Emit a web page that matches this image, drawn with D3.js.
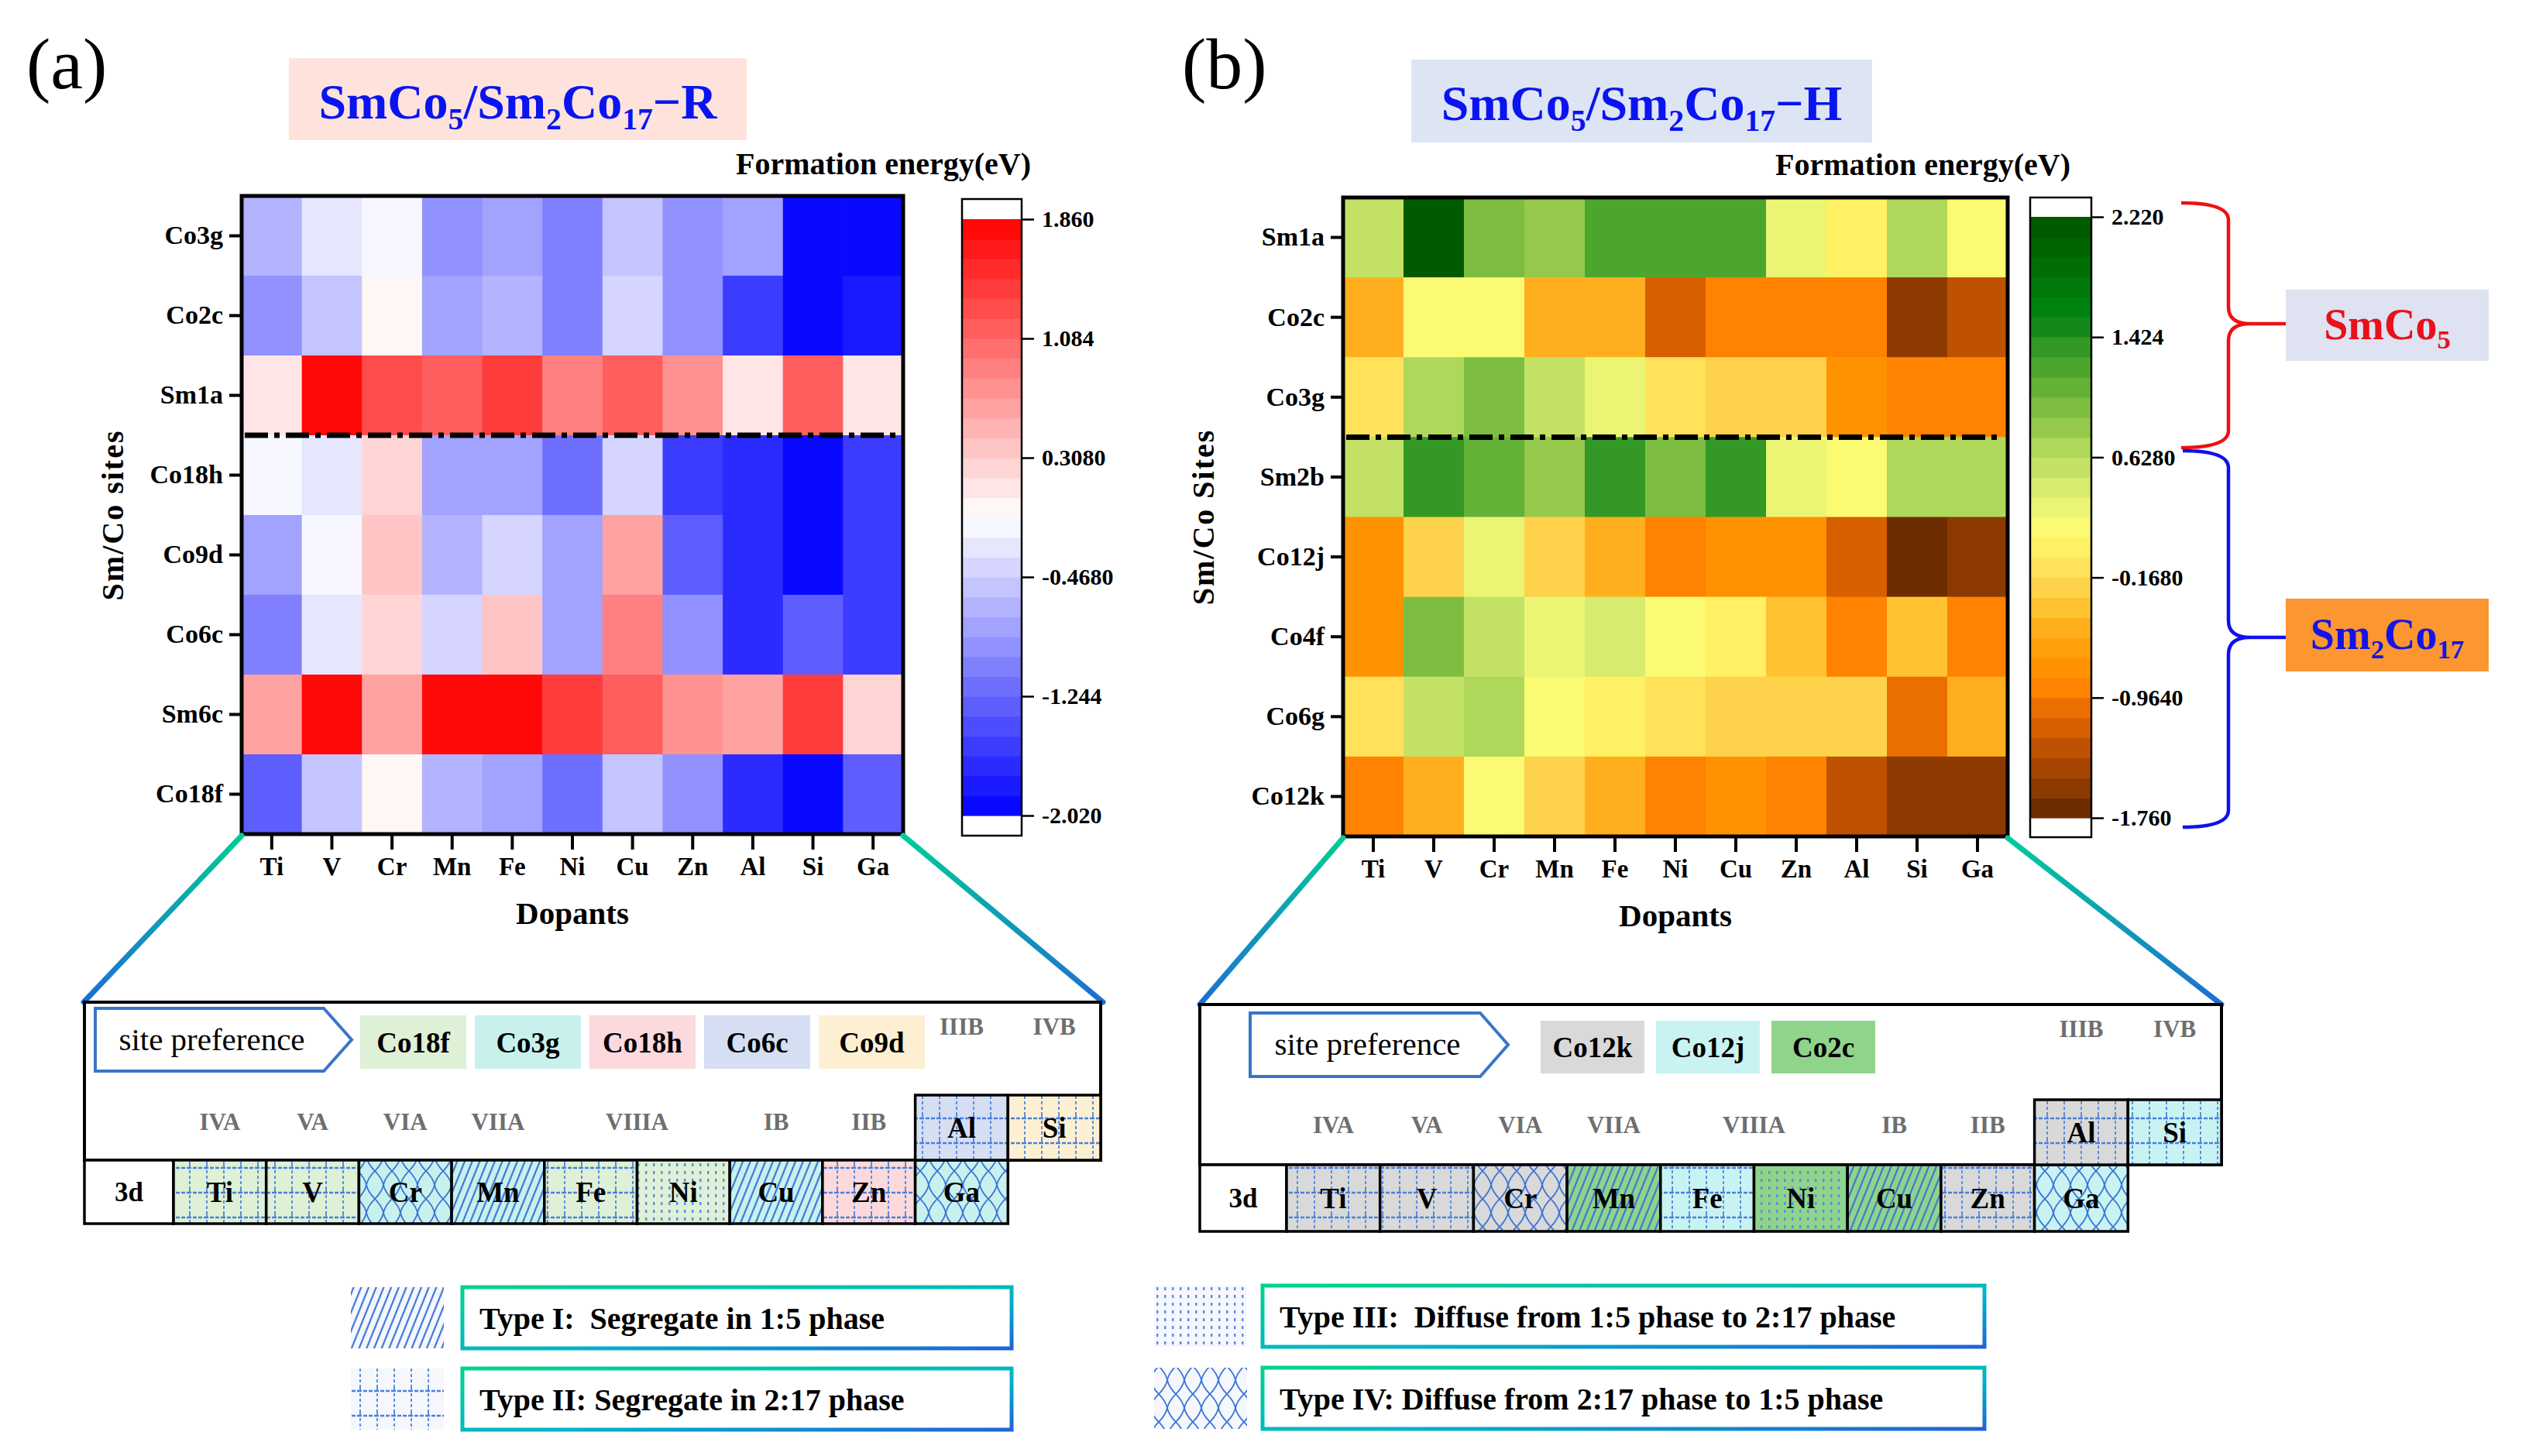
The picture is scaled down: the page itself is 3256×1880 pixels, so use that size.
<!DOCTYPE html>
<html><head><meta charset="utf-8">
<script src="https://cdn.jsdelivr.net/npm/d3@7/dist/d3.min.js"></script>
<style>
body{margin:0;background:#fff}
svg{display:block}
text{font-family:"Liberation Serif","Times New Roman",serif}
</style>
</head><body>
<svg id="c" width="3256" height="1880"></svg>
<script>
// ---------------- DATA ----------------
const dopants = ["Ti","V","Cr","Mn","Fe","Ni","Cu","Zn","Al","Si","Ga"];

const sitesR = ["Co3g","Co2c","Sm1a","Co18h","Co9d","Co6c","Sm6c","Co18f"];
const energyR = [
  [-0.66,-0.27,-0.17,-0.95,-0.80,-1.11,-0.57,-0.95,-0.80,-2.02,-1.95],
  [-0.95,-0.54, 0.00,-0.80,-0.65,-1.10,-0.42,-0.95,-1.53,-2.00,-1.83],
  [ 0.15, 1.78, 1.33, 1.18, 1.47, 0.91, 1.18, 0.79, 0.15, 1.10, 0.15],
  [-0.17,-0.30, 0.23,-0.80,-0.80,-1.18,-0.42,-1.53,-1.68,-1.95,-1.53],
  [-0.80,-0.20, 0.41,-0.65,-0.38,-0.84, 0.64,-1.34,-1.68,-2.02,-1.53],
  [-1.10,-0.30, 0.23,-0.38, 0.41,-0.84, 0.95,-0.92,-1.68,-1.26,-1.53],
  [ 0.60, 1.86, 0.64, 1.86, 1.86, 1.47, 1.18, 0.79, 0.64, 1.47, 0.23],
  [-1.37,-0.54, 0.00,-0.65,-0.80,-1.22,-0.50,-0.95,-1.68,-1.95,-1.37]
];
const ticksR = [1.860, 1.084, 0.3080, -0.4680, -1.244, -2.020];
const tickLabelsR = ["1.860","1.084","0.3080","-0.4680","-1.244","-2.020"];

const sitesH = ["Sm1a","Co2c","Co3g","Sm2b","Co12j","Co4f","Co6g","Co12k"];
const energyH = [
  [ 0.50, 2.20, 1.00, 0.85, 1.25, 1.25, 1.25, 0.35, 0.00, 0.70, 0.15],
  [-0.50, 0.20, 0.20,-0.50,-0.50,-1.15,-0.85,-0.85,-0.90,-1.60,-1.35],
  [-0.10, 0.70, 0.95, 0.50, 0.35,-0.12,-0.20,-0.20,-0.70,-0.90,-0.85],
  [ 0.50, 1.42, 1.05, 0.88, 1.30, 1.00, 1.30, 0.35, 0.20, 0.68, 0.68],
  [-0.70,-0.20, 0.30,-0.20,-0.55,-0.85,-0.75,-0.75,-1.15,-1.72,-1.60],
  [-0.70, 0.95, 0.55, 0.35, 0.45, 0.15, 0.00,-0.35,-0.85,-0.35,-0.88],
  [-0.10, 0.58, 0.75, 0.15, 0.02,-0.08,-0.18,-0.18,-0.30,-1.00,-0.55],
  [-0.85,-0.50, 0.20,-0.20,-0.55,-0.85,-0.75,-0.90,-1.35,-1.60,-1.60]
];
const ticksH = [2.220, 1.424, 0.6280, -0.1680, -0.9640, -1.760];
const tickLabelsH = ["2.220","1.424","0.6280","-0.1680","-0.9640","-1.760"];

// periodic-table insets
const row3d = ["Ti","V","Cr","Mn","Fe","Ni","Cu","Zn","Ga"];
const rowUpper = ["Al","Si"];
const groupLabels = ["IVA","VA","VIA","VIIA","VIIIA","IB","IIB"];
const groupUpper = ["IIIB","IVB"];
const sitePrefR = ["Co18f","Co3g","Co18h","Co6c","Co9d"];
const sitePrefH = ["Co12k","Co12j","Co2c"];
const elemSiteR = {Ti:"Co18f",V:"Co18f",Cr:"Co3g",Mn:"Co3g",Fe:"Co18f",Ni:"Co18f",Cu:"Co3g",Zn:"Co18h",Ga:"Co3g",Al:"Co6c",Si:"Co9d"};
const elemSiteH = {Ti:"Co12k",V:"Co12k",Cr:"Co12k",Mn:"Co2c",Fe:"Co12j",Ni:"Co2c",Cu:"Co2c",Zn:"Co12k",Ga:"Co12j",Al:"Co12k",Si:"Co12j"};
const elemTypeR = {Ti:"II",V:"II",Cr:"IV",Mn:"I",Fe:"II",Ni:"III",Cu:"I",Zn:"II",Ga:"IV",Al:"II",Si:"II"};
const elemTypeH = {Ti:"II",V:"II",Cr:"IV",Mn:"I",Fe:"II",Ni:"III",Cu:"I",Zn:"II",Ga:"IV",Al:"II",Si:"II"};
const typeKeys = ["I","II","III","IV"];
const typeTexts = ["Type I:  Segregate in 1:5 phase","Type II: Segregate in 2:17 phase",
                   "Type III:  Diffuse from 1:5 phase to 2:17 phase","Type IV: Diffuse from 2:17 phase to 1:5 phase"];

// ---------------- STYLE ----------------
const siteColor = {Co18f:"#def0d6",Co3g:"#c8f1ee",Co18h:"#fcd9dc",Co6c:"#d5def2",Co9d:"#fdf0d2",
                   Co12k:"#d9d9d9",Co12j:"#c9f3f3",Co2c:"#8fd48a"};
const paletteH = ["#6e2d00","#8c3a00","#a54500","#be5200","#d75f00","#eb6e00",
  "#ff8200","#ff9200","#ffa00a","#ffaf1e","#ffc332","#ffd24b",
  "#ffe15a","#fff064","#fafa73","#ebf573","#d7eb6e","#c3e164",
  "#afd75a","#96c84b","#7dbe41","#64b137","#4ca62e","#339825",
  "#14891a","#00820f","#00780a","#006e05","#006400","#005a00"];

const svg = d3.select("#c");
svg.append("rect").attr("width",3256).attr("height",1880).attr("fill","#fff");
const defs = svg.append("defs");

// patterns
(function(){
  const blue = "#3d75d6";
  let p = defs.append("pattern").attr("id","patI").attr("patternUnits","userSpaceOnUse")
    .attr("width",9).attr("height",12).attr("patternTransform","rotate(22)");
  p.append("line").attr("x1",2).attr("y1",0).attr("x2",2).attr("y2",12).attr("stroke",blue).attr("stroke-width",2.2);
  p = defs.append("pattern").attr("id","patII").attr("patternUnits","userSpaceOnUse").attr("width",22).attr("height",32);
  p.append("line").attr("x1",3).attr("y1",0).attr("x2",3).attr("y2",32).attr("stroke","#5b8ee0").attr("stroke-width",2).attr("stroke-dasharray","4 3");
  p.append("line").attr("x1",0).attr("y1",4).attr("x2",22).attr("y2",4).attr("stroke","#4a80da").attr("stroke-width",2.6).attr("stroke-dasharray","5 2");
  p = defs.append("pattern").attr("id","patIII").attr("patternUnits","userSpaceOnUse").attr("width",10).attr("height",10);
  p.append("rect").attr("x",3).attr("y",2).attr("width",2.4).attr("height",4).attr("fill","#5a8ee0");
  p = defs.append("pattern").attr("id","patIV").attr("patternUnits","userSpaceOnUse").attr("width",22).attr("height",36);
  p.append("path").attr("d","M0,0 Q9,9 11,18 Q13,27 22,36 M22,0 Q13,9 11,18 Q9,27 0,36")
    .attr("fill","none").attr("stroke",blue).attr("stroke-width",1.8);
  const g = defs.append("linearGradient").attr("id","boxGrad").attr("x1","0").attr("y1","0").attr("x2","1").attr("y2","1");
  g.append("stop").attr("offset","0%").attr("stop-color","#00d48c");
  g.append("stop").attr("offset","60%").attr("stop-color","#00b4c8");
  g.append("stop").attr("offset","100%").attr("stop-color","#1e64d8");
})();

function connector(id,x1,y1,x2,y2){
  const g = defs.append("linearGradient").attr("id",id).attr("gradientUnits","userSpaceOnUse")
    .attr("x1",x1).attr("y1",y1).attr("x2",x2).attr("y2",y2);
  g.append("stop").attr("offset","0%").attr("stop-color","#00cc96");
  g.append("stop").attr("offset","100%").attr("stop-color","#1d6ed4");
  svg.append("line").attr("x1",x1).attr("y1",y1).attr("x2",x2).attr("y2",y2)
    .attr("stroke",`url(#${id})`).attr("stroke-width",7).attr("stroke-linecap","round");
}

function formula(g, x, y, parts, size, color, anchor){
  const t = g.append("text").attr("x",x).attr("y",y).attr("text-anchor",anchor||"middle")
    .attr("font-size",size).attr("font-weight","bold").attr("fill",color);
  let shifted = false;
  parts.forEach(p=>{
    const sub = typeof p !== "string";
    const s = t.append("tspan").text(sub ? p.sub : p);
    if (sub) { s.attr("font-size",size*0.62).attr("dy", shifted?0:size*0.22); shifted = true; }
    else if (shifted) { s.attr("dy",-size*0.22); shifted = false; }
  });
  return t;
}

// ---------------- HEATMAP PANELS ----------------
function heatPanel(o){
  const g = svg.append("g");
  const x = d3.scaleBand().domain(dopants).range([o.x0,o.x1]);
  const y = d3.scaleBand().domain(o.sites).range([o.y0,o.y1]);
  const n = o.palette.length, step = (o.max-o.min)/n;
  const q = d3.scaleQuantize().domain([o.min,o.max]).range(o.palette);
  o.sites.forEach((s,i)=>{
    g.append("g").selectAll("rect").data(o.values[i]).join("rect")
      .attr("x",(d,j)=>x(dopants[j])).attr("y",y(s))
      .attr("width",x.bandwidth()+0.6).attr("height",y.bandwidth()+0.6)
      .attr("fill",d=>q(d));
  });
  const yd = y(o.sites[3]);
  g.append("line").attr("x1",o.x0+4).attr("x2",o.x1-10).attr("y1",yd).attr("y2",yd)
    .attr("stroke","#000").attr("stroke-width",7).attr("stroke-dasharray","30 8 7 8");
  g.append("rect").attr("x",o.x0).attr("y",o.y0).attr("width",o.x1-o.x0).attr("height",o.y1-o.y0)
    .attr("fill","none").attr("stroke","#000").attr("stroke-width",5);
  const ay = g.append("g").attr("transform",`translate(${o.x0-2},0)`).call(d3.axisLeft(y).tickSize(14).tickPadding(8));
  const ax = g.append("g").attr("transform",`translate(0,${o.y1+2})`).call(d3.axisBottom(x).tickSize(18).tickPadding(10));
  [ay,ax].forEach(a=>{
    a.select(".domain").remove();
    a.selectAll("line").attr("stroke","#000").attr("stroke-width",4);
    a.selectAll("text").attr("font-size",34).attr("font-weight","bold").attr("fill","#000");
  });
  ax.selectAll("text").attr("font-size",33);
  // axis titles
  g.append("text").attr("transform",`translate(${o.ylabX},${(o.y0+o.y1)/2}) rotate(-90)`)
    .attr("text-anchor","middle").attr("dominant-baseline","middle").attr("font-size",40).attr("font-weight","bold")
    .attr("letter-spacing",2).text(o.ylab);
  g.append("text").attr("x",(o.x0+o.x1)/2).attr("y",o.y1+116).attr("text-anchor","middle")
    .attr("font-size",41).attr("font-weight","bold").text("Dopants");
  // colorbar
  const cy = d3.scaleLinear().domain([o.min,o.max]).range([o.cbBot,o.cbTop]);
  g.append("rect").attr("x",o.cbX).attr("y",o.cbTop-o.cbPad).attr("width",o.cbW).attr("height",o.cbBot-o.cbTop+2*o.cbPad)
    .attr("fill","#fff");
  g.append("g").selectAll("rect").data(o.palette).join("rect")
    .attr("x",o.cbX).attr("width",o.cbW)
    .attr("y",(c,i)=>cy(o.min+step*(i+1))).attr("height",(c,i)=>cy(o.min+step*i)-cy(o.min+step*(i+1))+0.6)
    .attr("fill",c=>c);
  g.append("rect").attr("x",o.cbX).attr("y",o.cbTop-o.cbPad).attr("width",o.cbW).attr("height",o.cbBot-o.cbTop+2*o.cbPad)
    .attr("fill","none").attr("stroke","#000").attr("stroke-width",2.5);
  const ac = g.append("g").attr("transform",`translate(${o.cbX+o.cbW},0)`)
    .call(d3.axisRight(cy).tickValues(o.ticks).tickFormat((d,i)=>o.tickLabels[i]).tickSize(16).tickPadding(10));
  ac.select(".domain").remove();
  ac.selectAll("line").attr("stroke","#000").attr("stroke-width",2.5);
  ac.selectAll("text").attr("font-size",30).attr("font-weight","bold").attr("fill","#000");
  g.append("text").attr("x",o.ftX).attr("y",o.ftY).attr("font-size",40).attr("font-weight","bold").text("Formation energy(eV)");
  // panel letter + title box
  g.append("text").attr("x",o.letterX).attr("y",114).attr("font-size",94).text(o.letter);
  g.append("rect").attr("x",o.tb[0]).attr("y",o.tb[1]).attr("width",o.tb[2]).attr("height",o.tb[3]).attr("fill",o.tbFill);
  formula(g, o.tb[0]+o.tb[2]/2, o.tb[1]+78, ["SmCo",{sub:"5"},"/Sm",{sub:"2"},"Co",{sub:"17"},o.titleEnd], 64, "#0a14f0");
}

const divInterp = d3.piecewise(d3.interpolateRgb, ["#0000ff","#ffffff","#ff0000"]);
const paletteR = d3.range(30).map(i=>divInterp((i+0.5)/30));

heatPanel({x0:312,x1:1166,y0:253,y1:1077,sites:sitesR,values:energyR,min:-2.02,max:1.86,palette:paletteR,
  ticks:ticksR,tickLabels:tickLabelsR,cbX:1242,cbW:77,cbTop:283,cbBot:1053,cbPad:26,
  ylab:"Sm/Co sites",ylabX:150,ftX:950,ftY:225,letter:"(a)",letterX:34,
  tb:[373,75,591,106],tbFill:"#fde3dc",titleEnd:"\u2212R"});
heatPanel({x0:1734,x1:2592,y0:255,y1:1080,sites:sitesH,values:energyH,min:-1.76,max:2.22,palette:paletteH,
  ticks:ticksH,tickLabels:tickLabelsH,cbX:2621,cbW:79,cbTop:280,cbBot:1056,cbPad:25,
  ylab:"Sm/Co Sites",ylabX:1558,ftX:2292,ftY:226,letter:"(b)",letterX:1526,
  tb:[1822,77,595,107],tbFill:"#dde5f5",titleEnd:"\u2212H"});

// braces + phase boxes
function brace(x0,xm,xc,ya,yc,yb,color){
  const r = 22;
  const d = `M${x0},${ya} Q${xm},${ya} ${xm},${ya+r} L${xm},${yc-r} Q${xm},${yc} ${xc},${yc}`+
            ` M${xc},${yc} Q${xm},${yc} ${xm},${yc+r} L${xm},${yb-r} Q${xm},${yb} ${x0},${yb}`+
            ` M${xc},${yc} L${2951},${yc}`;
  svg.append("path").attr("d",d).attr("fill","none").attr("stroke",color).attr("stroke-width",4.5);
}
brace(2816,2877,2905,262,418,578,"#ee1111");
brace(2818,2877,2905,582,823,1068,"#1010ee");
svg.append("rect").attr("x",2951).attr("y",374).attr("width",262).attr("height",92).attr("fill","#dee2f1");
formula(svg, 3082, 438, ["SmCo",{sub:"5"}], 56, "#e8111a");
svg.append("rect").attr("x",2951).attr("y",773).attr("width",262).attr("height",94).attr("fill","#fb9631");
formula(svg, 3082, 838, ["Sm",{sub:"2"},"Co",{sub:"17"}], 56, "#1414e6");

// connectors
connector("cg1",312,1079,108,1294);
connector("cg2",1166,1079,1424,1294);
connector("cg3",1734,1082,1549,1297);
connector("cg4",2592,1082,2868,1297);

// ---------------- PERIODIC TABLE INSETS ----------------
function table(o){
  const g = svg.append("g");
  const cx = d3.scaleBand().domain(d3.range(10)).range([o.left+o.w3d,o.right]);
  const cw = cx.bandwidth();
  g.append("rect").attr("x",o.left).attr("y",o.top).attr("width",o.right-o.left).attr("height",o.rowTop-o.top)
    .attr("fill","#fff").attr("stroke","#000").attr("stroke-width",4);
  const a = o.arrow;
  g.append("path").attr("d",`M${a[0]},${a[1]} L${a[2]-36},${a[1]} L${a[2]},${(a[1]+a[3])/2} L${a[2]-36},${a[3]} L${a[0]},${a[3]} Z`)
    .attr("fill","#fff").attr("stroke","#3a76c8").attr("stroke-width",4);
  g.append("text").attr("x",(a[0]+a[2]-30)/2).attr("y",(a[1]+a[3])/2+13).attr("text-anchor","middle")
    .attr("font-size",41).text("site preference");
  o.sites.forEach((s,i)=>{
    const bx = o.sx + i*o.sstep;
    g.append("rect").attr("x",bx).attr("y",o.sy).attr("width",o.sw).attr("height",o.sh).attr("fill",siteColor[s]);
    g.append("text").attr("x",bx+o.sw/2).attr("y",o.sy+o.sh/2+13).attr("text-anchor","middle")
      .attr("font-size",37).attr("font-weight","bold").text(s);
  });
  const grpCol = [[0],[1],[2],[3],[4,5],[6],[7]];
  groupLabels.forEach((lab,i)=>{
    const xm = d3.mean(grpCol[i], c=>cx(c)+cw/2);
    g.append("text").attr("x",xm).attr("y",o.grpY).attr("text-anchor","middle").attr("font-size",31)
      .attr("font-weight","bold").attr("fill","#6e6e6e").text(lab);
  });
  groupUpper.forEach((lab,i)=>{
    g.append("text").attr("x",cx(8+i)+cw/2).attr("y",o.grpUY).attr("text-anchor","middle").attr("font-size",31)
      .attr("font-weight","bold").attr("fill","#6e6e6e").text(lab);
  });
  function cell(x,y,w,h,el){
    g.append("rect").attr("x",x).attr("y",y).attr("width",w).attr("height",h).attr("fill",siteColor[o.site[el]]);
    g.append("rect").attr("x",x).attr("y",y).attr("width",w).attr("height",h).attr("fill",`url(#pat${o.type[el]})`);
    g.append("rect").attr("x",x).attr("y",y).attr("width",w).attr("height",h).attr("fill","none")
      .attr("stroke","#000").attr("stroke-width",3.5);
    g.append("text").attr("x",x+w/2).attr("y",y+h/2+13).attr("text-anchor","middle").attr("font-size",37)
      .attr("font-weight","bold").text(el);
  }
  g.append("rect").attr("x",o.left).attr("y",o.rowTop).attr("width",o.w3d).attr("height",o.bottom-o.rowTop)
    .attr("fill","#fff").attr("stroke","#000").attr("stroke-width",3.5);
  g.append("text").attr("x",o.left+o.w3d/2).attr("y",(o.rowTop+o.bottom)/2+12).attr("text-anchor","middle")
    .attr("font-size",35).attr("font-weight","bold").text("3d");
  row3d.forEach((el,i)=>cell(cx(i),o.rowTop,cw,o.bottom-o.rowTop,el));
  rowUpper.forEach((el,i)=>cell(cx(8+i),o.alTop,cw,o.rowTop-o.alTop,el));
}
table({left:109,right:1421,top:1294,alTop:1414,rowTop:1498,bottom:1580,w3d:115,
  arrow:[123,1302,454,1383],sites:sitePrefR,sx:465,sstep:148,sw:137,sy:1311,sh:69,
  grpY:1459,grpUY:1336,site:elemSiteR,type:elemTypeR});
table({left:1549,right:2868,top:1297,alTop:1420,rowTop:1504,bottom:1590,w3d:112,
  arrow:[1614,1308,1947,1390],sites:sitePrefH,sx:1989,sstep:149,sw:134,sy:1318,sh:68,
  grpY:1463,grpUY:1339,site:elemSiteH,type:elemTypeH});

// ---------------- TYPE LEGEND ----------------
const legPos = [[453,597,1306,1662],[453,597,1306,1767],[1490,1630,2562,1660],[1490,1630,2562,1766]];
typeKeys.forEach((k,i)=>{
  const [sx,bx,bx2,y] = legPos[i];
  const h = 79;
  svg.append("rect").attr("x",sx).attr("y",y).attr("width",120).attr("height",h).attr("fill","#f5f7fc");
  svg.append("rect").attr("x",sx).attr("y",y).attr("width",120).attr("height",h).attr("fill",`url(#pat${k})`);
  svg.append("rect").attr("x",bx).attr("y",y).attr("width",bx2-bx).attr("height",h)
    .attr("fill","#fff").attr("stroke","url(#boxGrad)").attr("stroke-width",5);
  svg.append("text").attr("x",bx+22).attr("y",y+h/2+14).attr("font-size",40).attr("font-weight","bold")
    .style("white-space","pre").text(typeTexts[i]);
});
</script>
</body></html>
